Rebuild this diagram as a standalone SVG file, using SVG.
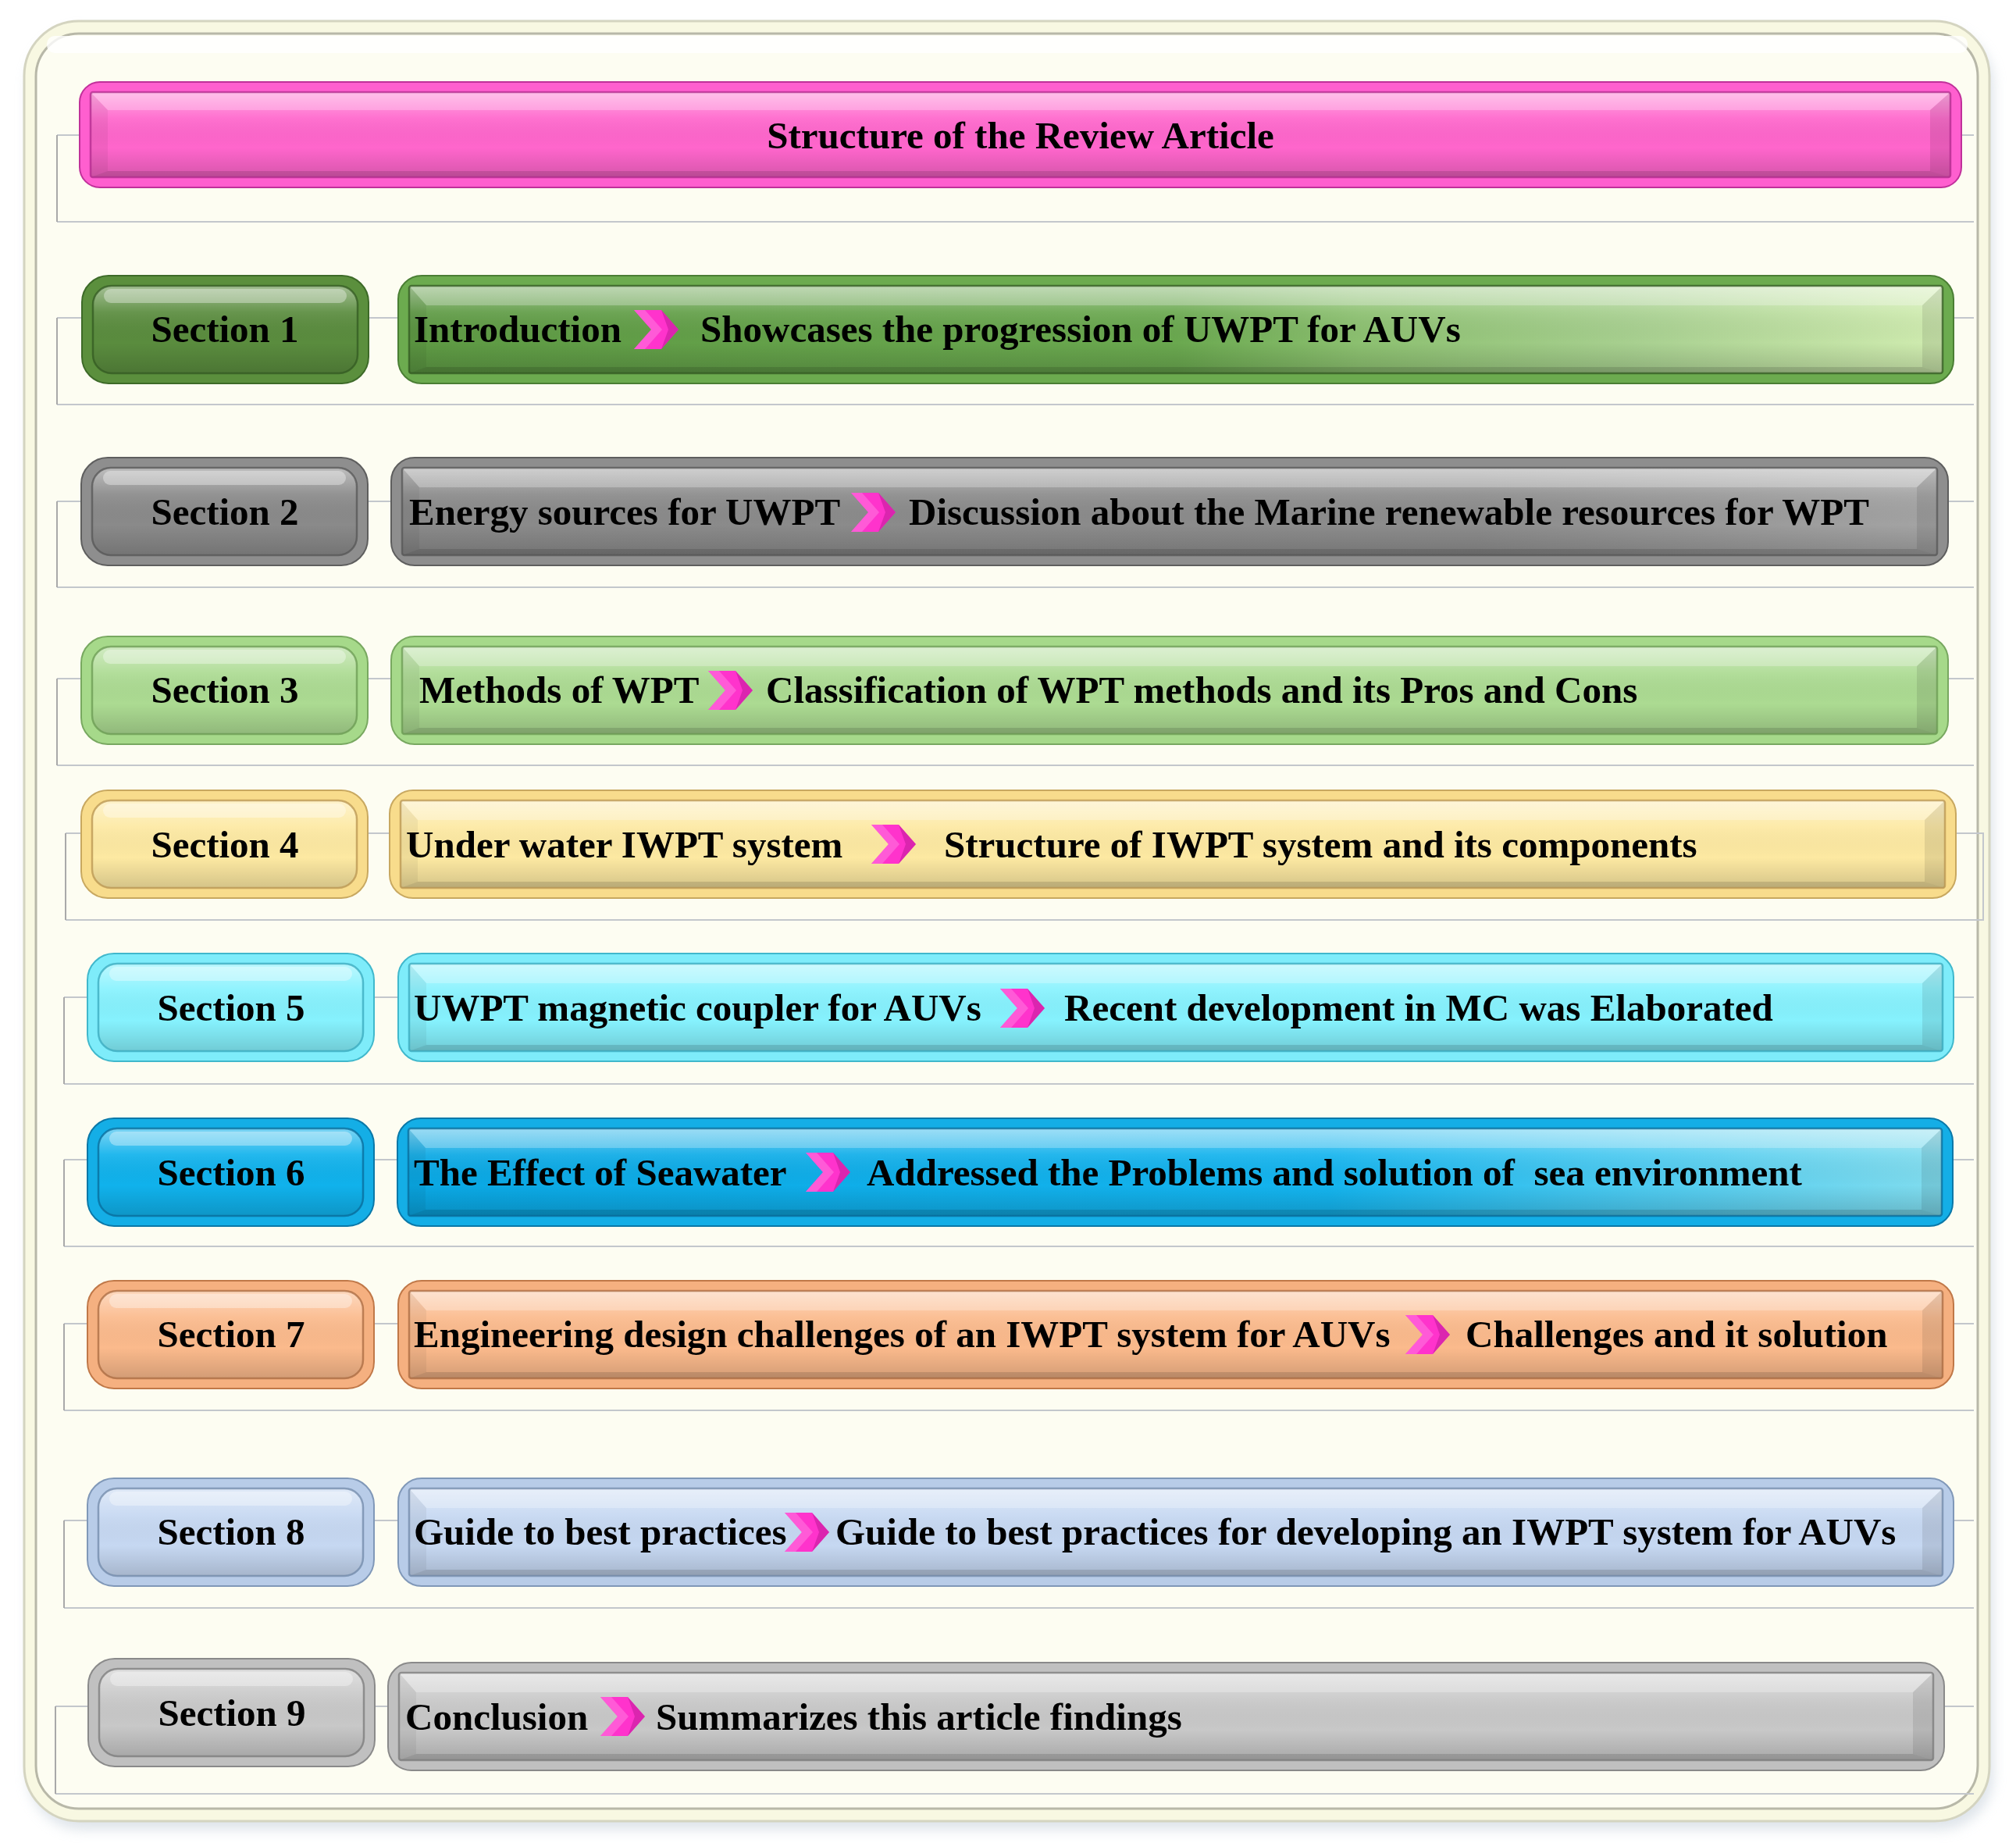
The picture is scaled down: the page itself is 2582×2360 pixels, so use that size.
<svg xmlns="http://www.w3.org/2000/svg" xmlns:xlink="http://www.w3.org/1999/xlink" width="2582" height="2360" viewBox="0 0 2582 2360">
<style>
.lbl{font-family:"Liberation Serif","Times New Roman",serif;font-weight:bold;font-size:49px;fill:#000}
.mid{text-anchor:middle}
.ln{fill:none;stroke:#c3c7cc;stroke-width:2}
.vl{fill:none;stroke:#a9a9a9;stroke-width:2}
.rim{stroke-width:2}
.edge{fill:none;stroke-width:2.5;stroke-opacity:.75}
.hl{fill:#fff;opacity:.35}
.bt{fill:#fff;opacity:.25}
.br{fill:#000;opacity:.09}
.bb{fill:#000;opacity:.12}
.bl{fill:#000;opacity:.05}
.kT{fill:#ff5fcf;stroke:#c0309a}.fT{fill:#ff66cc}.eT{stroke:#b02a8c}
.k1{fill:#5b8f3d;stroke:#3d6a28}.f1{fill:#5a8c3e}.e1{stroke:#335a22}
.k1c{fill:#6cab4f;stroke:#4a7e34}
.k2{fill:#8e8e8e;stroke:#5e5e5e}.f2{fill:#8a8a8a}.e2{stroke:#555}
.k3{fill:#a6d98a;stroke:#78a860}.f3{fill:#acdb92}.e3{stroke:#6a9a52}
.k4{fill:#f8dc8c;stroke:#c8a860}.f4{fill:#fde9a2}.e4{stroke:#b89450}
.k5{fill:#7eecfa;stroke:#40b8cc}.f5{fill:#86f2fe}.e5{stroke:#38a8bc}
.k6{fill:#14aee6;stroke:#0a78a8}.f6{fill:#10b2ec}.e6{stroke:#086a98}
.k7{fill:#f5b080;stroke:#c07848}.f7{fill:#fbba8c}.e7{stroke:#a86a40}
.k8{fill:#b8cce8;stroke:#8098b8}.f8{fill:#c6d8f2}.e8{stroke:#7088a8}
.k9{fill:#c0c0c0;stroke:#8a8a8a}.f9{fill:#c8c8c8}.e9{stroke:#7a7a7a}
</style>
<defs>
<linearGradient id="gloss" x1="0" y1="0" x2="0" y2="1">
<stop offset="0" stop-color="#fff" stop-opacity=".45"/>
<stop offset=".3" stop-color="#fff" stop-opacity=".08"/>
<stop offset=".65" stop-color="#000" stop-opacity="0"/>
<stop offset="1" stop-color="#000" stop-opacity=".16"/>
</linearGradient>
<linearGradient id="g1" x1="0" y1="0" x2="1" y2="0">
<stop offset="0" stop-color="#5e9a44"/>
<stop offset=".5" stop-color="#6aa84f"/>
<stop offset=".62" stop-color="#8cc070"/>
<stop offset=".8" stop-color="#a8d090"/>
<stop offset="1" stop-color="#d0ecb0"/>
</linearGradient>
<linearGradient id="g6" x1="0" y1="0" x2="1" y2="0">
<stop offset="0" stop-color="#0aa8e4"/>
<stop offset=".6" stop-color="#14b4ee"/>
<stop offset=".8" stop-color="#4ccaf0"/>
<stop offset="1" stop-color="#80dcee"/>
</linearGradient>
<linearGradient id="g2" x1="0" y1="0" x2="1" y2="0">
<stop offset="0" stop-color="#8a8a8a"/>
<stop offset=".7" stop-color="#8c8c8c"/>
<stop offset="1" stop-color="#a4a4a4"/>
</linearGradient>
<filter id="sh" x="-5%" y="-5%" width="110%" height="110%">
<feGaussianBlur stdDeviation="8"/>
</filter>
<g id="chev">
<polygon points="0,0 35,0 57,25 35,50 0,50 22,25" fill="#ff33cc"/>
<polygon points="22,25 0,0 14,0 36,25 14,50 0,50" fill="#ff7ae0" opacity=".55"/>
<polygon points="35,0 57,25 35,50 44,25" fill="#b0158c" opacity=".45"/>
</g>
</defs>

<rect width="2582" height="2360" fill="#fff"/>

<g id="frame">
<rect x="36" y="38" width="2517" height="2305" rx="70" fill="#c8d2dc" opacity=".6" filter="url(#sh)"/>
<rect x="31" y="27" width="2517" height="2305" rx="70" fill="#f8f8e2" stroke="#d4d4c0" stroke-width="3"/>
<rect x="46" y="43" width="2487" height="2273" rx="55" fill="#fdfdf2" stroke="#b8b8a8" stroke-width="3"/>
<rect x="60" y="46" width="2460" height="22" rx="10" fill="#fff" opacity=".8"/>
</g>

<g id="connectors">
<path class="ln" d="M73,173 H2528 M73,284 H2528 M73,407 H2528 M73,518 H2528 M73,642 H2528 M73,752 H2528 M73,869 H2528 M73,980 H2528 M84,1067 H2540 V1178 H84 M82,1277 H2528 M82,1388 H2528 M82,1485 H2528 M82,1596 H2528 M82,1695 H2528 M82,1806 H2528 M82,1947 H2528 M82,2059 H2528 M71,2185 H2528 M71,2297 H2528"/>
<path class="vl" d="M73,173 V284 M73,407 V518 M73,642 V752 M73,869 V980 M84,1067 V1178 M82,1277 V1388 M82,1485 V1596 M82,1695 V1806 M82,1947 V2059 M71,2185 V2297"/>
</g>

<g id="title">
<g transform="translate(102,105)">
<rect class="rim kT" width="2410" height="135" rx="26"/>
<rect class="fT" x="14" y="13" width="2382" height="109" rx="3"/>
<rect fill="url(#gloss)" x="14" y="13" width="2382" height="109" rx="3"/>
<polygon class="bt" points="14,13 2396,13 2370,36 36,36"/>
<polygon class="br" points="2396,13 2396,122 2370,114 2370,36"/>
<polygon class="bb" points="14,122 2396,122 2370,114 36,114"/>
<polygon class="bl" points="14,13 36,36 36,114 14,122"/>
<rect class="edge eT" x="14" y="13" width="2382" height="109" rx="3"/>
</g>
<text class="lbl mid" x="1307" y="190">Structure of the Review Article</text>
</g>

<!-- Row 1 -->
<g id="s1">
<g transform="translate(105,353)">
<rect class="rim k1" width="367" height="138" rx="34"/>
<rect class="f1" x="14" y="13" width="339" height="112" rx="24"/>
<rect fill="url(#gloss)" x="14" y="13" width="339" height="112" rx="24"/>
<rect class="edge e1" x="14" y="13" width="339" height="112" rx="24"/>
<rect class="hl" x="28" y="17" width="311" height="18" rx="9"/>
</g>
<text class="lbl mid" x="288" y="438">Section 1</text>
</g>
<g id="c1">
<g transform="translate(510,353)">
<rect class="rim k1c" width="1992" height="138" rx="30"/>
<rect fill="url(#g1)" x="14" y="13" width="1964" height="112" rx="3"/>
<rect fill="url(#gloss)" x="14" y="13" width="1964" height="112" rx="3"/>
<polygon class="bt" points="14,13 1978,13 1952,38 36,38"/>
<polygon class="br" points="1978,13 1978,125 1952,117 1952,38"/>
<polygon class="bb" points="14,125 1978,125 1952,117 36,117"/>
<polygon class="bl" points="14,13 36,38 36,117 14,125"/>
<rect class="edge e1" x="14" y="13" width="1964" height="112" rx="3"/>
</g>
<text class="lbl" x="530" y="438">Introduction</text>
<use xlink:href="#chev" x="812" y="397"/>
<text class="lbl" x="897" y="438">Showcases the progression of UWPT for AUVs</text>
</g>

<!-- Row 2 -->
<g id="s2">
<g transform="translate(104,586)">
<rect class="rim k2" width="367" height="138" rx="34"/>
<rect class="f2" x="14" y="13" width="339" height="112" rx="24"/>
<rect fill="url(#gloss)" x="14" y="13" width="339" height="112" rx="24"/>
<rect class="edge e2" x="14" y="13" width="339" height="112" rx="24"/>
<rect class="hl" x="28" y="17" width="311" height="18" rx="9"/>
</g>
<text class="lbl mid" x="288" y="672">Section 2</text>
</g>
<g id="c2">
<g transform="translate(501,586)">
<rect class="rim k2" width="1994" height="138" rx="30"/>
<rect fill="url(#g2)" x="14" y="13" width="1966" height="112" rx="3"/>
<rect fill="url(#gloss)" x="14" y="13" width="1966" height="112" rx="3"/>
<polygon class="bt" points="14,13 1980,13 1954,38 36,38"/>
<polygon class="br" points="1980,13 1980,125 1954,117 1954,38"/>
<polygon class="bb" points="14,125 1980,125 1954,117 36,117"/>
<polygon class="bl" points="14,13 36,38 36,117 14,125"/>
<rect class="edge e2" x="14" y="13" width="1966" height="112" rx="3"/>
</g>
<text class="lbl" x="524" y="672">Energy sources for UWPT</text>
<use xlink:href="#chev" x="1090" y="631"/>
<text class="lbl" x="1164" y="672">Discussion about the Marine renewable resources for WPT</text>
</g>

<!-- Row 3 -->
<g id="s3">
<g transform="translate(104,815)">
<rect class="rim k3" width="367" height="138" rx="34"/>
<rect class="f3" x="14" y="13" width="339" height="112" rx="24"/>
<rect fill="url(#gloss)" x="14" y="13" width="339" height="112" rx="24"/>
<rect class="edge e3" x="14" y="13" width="339" height="112" rx="24"/>
<rect class="hl" x="28" y="17" width="311" height="18" rx="9"/>
</g>
<text class="lbl mid" x="288" y="900">Section 3</text>
</g>
<g id="c3">
<g transform="translate(501,815)">
<rect class="rim k3" width="1994" height="138" rx="30"/>
<rect class="f3" x="14" y="13" width="1966" height="112" rx="3"/>
<rect fill="url(#gloss)" x="14" y="13" width="1966" height="112" rx="3"/>
<polygon class="bt" points="14,13 1980,13 1954,38 36,38"/>
<polygon class="br" points="1980,13 1980,125 1954,117 1954,38"/>
<polygon class="bb" points="14,125 1980,125 1954,117 36,117"/>
<polygon class="bl" points="14,13 36,38 36,117 14,125"/>
<rect class="edge e3" x="14" y="13" width="1966" height="112" rx="3"/>
</g>
<text class="lbl" x="537" y="900">Methods of WPT</text>
<use xlink:href="#chev" x="907" y="859"/>
<text class="lbl" x="981" y="900">Classification of WPT methods and its Pros and Cons</text>
</g>

<!-- Row 4 -->
<g id="s4">
<g transform="translate(104,1012)">
<rect class="rim k4" width="367" height="138" rx="34"/>
<rect class="f4" x="14" y="13" width="339" height="112" rx="24"/>
<rect fill="url(#gloss)" x="14" y="13" width="339" height="112" rx="24"/>
<rect class="edge e4" x="14" y="13" width="339" height="112" rx="24"/>
<rect class="hl" x="28" y="17" width="311" height="18" rx="9"/>
</g>
<text class="lbl mid" x="288" y="1098">Section 4</text>
</g>
<g id="c4">
<g transform="translate(499,1012)">
<rect class="rim k4" width="2006" height="138" rx="30"/>
<rect class="f4" x="14" y="13" width="1978" height="112" rx="3"/>
<rect fill="url(#gloss)" x="14" y="13" width="1978" height="112" rx="3"/>
<polygon class="bt" points="14,13 1992,13 1966,38 36,38"/>
<polygon class="br" points="1992,13 1992,125 1966,117 1966,38"/>
<polygon class="bb" points="14,125 1992,125 1966,117 36,117"/>
<polygon class="bl" points="14,13 36,38 36,117 14,125"/>
<rect class="edge e4" x="14" y="13" width="1978" height="112" rx="3"/>
</g>
<text class="lbl" x="520" y="1098">Under water IWPT system</text>
<use xlink:href="#chev" x="1116" y="1056"/>
<text class="lbl" x="1209" y="1098">Structure of IWPT system and its components</text>
</g>

<!-- Row 5 -->
<g id="s5">
<g transform="translate(112,1221)">
<rect class="rim k5" width="367" height="138" rx="34"/>
<rect class="f5" x="14" y="13" width="339" height="112" rx="24"/>
<rect fill="url(#gloss)" x="14" y="13" width="339" height="112" rx="24"/>
<rect class="edge e5" x="14" y="13" width="339" height="112" rx="24"/>
<rect class="hl" x="28" y="17" width="311" height="18" rx="9"/>
</g>
<text class="lbl mid" x="296" y="1307">Section 5</text>
</g>
<g id="c5">
<g transform="translate(510,1221)">
<rect class="rim k5" width="1992" height="138" rx="30"/>
<rect class="f5" x="14" y="13" width="1964" height="112" rx="3"/>
<rect fill="url(#gloss)" x="14" y="13" width="1964" height="112" rx="3"/>
<polygon class="bt" points="14,13 1978,13 1952,38 36,38"/>
<polygon class="br" points="1978,13 1978,125 1952,117 1952,38"/>
<polygon class="bb" points="14,125 1978,125 1952,117 36,117"/>
<polygon class="bl" points="14,13 36,38 36,117 14,125"/>
<rect class="edge e5" x="14" y="13" width="1964" height="112" rx="3"/>
</g>
<text class="lbl" x="530" y="1307">UWPT magnetic coupler for AUVs</text>
<use xlink:href="#chev" x="1281" y="1266"/>
<text class="lbl" x="1363" y="1307">Recent development in MC was Elaborated</text>
</g>

<!-- Row 6 -->
<g id="s6">
<g transform="translate(112,1432)">
<rect class="rim k6" width="367" height="138" rx="34"/>
<rect class="f6" x="14" y="13" width="339" height="112" rx="24"/>
<rect fill="url(#gloss)" x="14" y="13" width="339" height="112" rx="24"/>
<rect class="edge e6" x="14" y="13" width="339" height="112" rx="24"/>
<rect class="hl" x="28" y="17" width="311" height="18" rx="9"/>
</g>
<text class="lbl mid" x="296" y="1518">Section 6</text>
</g>
<g id="c6">
<g transform="translate(509,1432)">
<rect class="rim k6" width="1992" height="138" rx="30"/>
<rect fill="url(#g6)" x="14" y="13" width="1964" height="112" rx="3"/>
<rect fill="url(#gloss)" x="14" y="13" width="1964" height="112" rx="3"/>
<polygon class="bt" points="14,13 1978,13 1952,38 36,38"/>
<polygon class="br" points="1978,13 1978,125 1952,117 1952,38"/>
<polygon class="bb" points="14,125 1978,125 1952,117 36,117"/>
<polygon class="bl" points="14,13 36,38 36,117 14,125"/>
<rect class="edge e6" x="14" y="13" width="1964" height="112" rx="3"/>
</g>
<text class="lbl" x="530" y="1518">The Effect of Seawater</text>
<use xlink:href="#chev" x="1032" y="1476"/>
<text class="lbl" x="1110" y="1518" xml:space="preserve">Addressed the Problems and solution of  sea environment</text>
</g>

<!-- Row 7 -->
<g id="s7">
<g transform="translate(112,1640)">
<rect class="rim k7" width="367" height="138" rx="34"/>
<rect class="f7" x="14" y="13" width="339" height="112" rx="24"/>
<rect fill="url(#gloss)" x="14" y="13" width="339" height="112" rx="24"/>
<rect class="edge e7" x="14" y="13" width="339" height="112" rx="24"/>
<rect class="hl" x="28" y="17" width="311" height="18" rx="9"/>
</g>
<text class="lbl mid" x="296" y="1725">Section 7</text>
</g>
<g id="c7">
<g transform="translate(510,1640)">
<rect class="rim k7" width="1992" height="138" rx="30"/>
<rect class="f7" x="14" y="13" width="1964" height="112" rx="3"/>
<rect fill="url(#gloss)" x="14" y="13" width="1964" height="112" rx="3"/>
<polygon class="bt" points="14,13 1978,13 1952,38 36,38"/>
<polygon class="br" points="1978,13 1978,125 1952,117 1952,38"/>
<polygon class="bb" points="14,125 1978,125 1952,117 36,117"/>
<polygon class="bl" points="14,13 36,38 36,117 14,125"/>
<rect class="edge e7" x="14" y="13" width="1964" height="112" rx="3"/>
</g>
<text class="lbl" x="530" y="1725">Engineering design challenges of an IWPT system for AUVs</text>
<use xlink:href="#chev" x="1800" y="1684"/>
<text class="lbl" x="1877" y="1725">Challenges and it solution</text>
</g>

<!-- Row 8 -->
<g id="s8">
<g transform="translate(112,1893)">
<rect class="rim k8" width="367" height="138" rx="34"/>
<rect class="f8" x="14" y="13" width="339" height="112" rx="24"/>
<rect fill="url(#gloss)" x="14" y="13" width="339" height="112" rx="24"/>
<rect class="edge e8" x="14" y="13" width="339" height="112" rx="24"/>
<rect class="hl" x="28" y="17" width="311" height="18" rx="9"/>
</g>
<text class="lbl mid" x="296" y="1978">Section 8</text>
</g>
<g id="c8">
<g transform="translate(510,1893)">
<rect class="rim k8" width="1992" height="138" rx="30"/>
<rect class="f8" x="14" y="13" width="1964" height="112" rx="3"/>
<rect fill="url(#gloss)" x="14" y="13" width="1964" height="112" rx="3"/>
<polygon class="bt" points="14,13 1978,13 1952,38 36,38"/>
<polygon class="br" points="1978,13 1978,125 1952,117 1952,38"/>
<polygon class="bb" points="14,125 1978,125 1952,117 36,117"/>
<polygon class="bl" points="14,13 36,38 36,117 14,125"/>
<rect class="edge e8" x="14" y="13" width="1964" height="112" rx="3"/>
</g>
<text class="lbl" x="530" y="1978">Guide to best practices</text>
<use xlink:href="#chev" x="1005" y="1937"/>
<text class="lbl" x="1070" y="1978">Guide to best practices for developing an IWPT system for AUVs</text>
</g>

<!-- Row 9 -->
<g id="s9">
<g transform="translate(113,2124)">
<rect class="rim k9" width="367" height="138" rx="34"/>
<rect class="f9" x="14" y="13" width="339" height="112" rx="24"/>
<rect fill="url(#gloss)" x="14" y="13" width="339" height="112" rx="24"/>
<rect class="edge e9" x="14" y="13" width="339" height="112" rx="24"/>
<rect class="hl" x="28" y="17" width="311" height="18" rx="9"/>
</g>
<text class="lbl mid" x="297" y="2210">Section 9</text>
</g>
<g id="c9">
<g transform="translate(497,2129)">
<rect class="rim k9" width="1993" height="138" rx="30"/>
<rect class="f9" x="14" y="13" width="1965" height="112" rx="3"/>
<rect fill="url(#gloss)" x="14" y="13" width="1965" height="112" rx="3"/>
<polygon class="bt" points="14,13 1979,13 1953,38 36,38"/>
<polygon class="br" points="1979,13 1979,125 1953,117 1953,38"/>
<polygon class="bb" points="14,125 1979,125 1953,117 36,117"/>
<polygon class="bl" points="14,13 36,38 36,117 14,125"/>
<rect class="edge e9" x="14" y="13" width="1965" height="112" rx="3"/>
</g>
<text class="lbl" x="519" y="2215">Conclusion</text>
<use xlink:href="#chev" x="769" y="2173"/>
<text class="lbl" x="840" y="2215">Summarizes this article findings</text>
</g>
</svg>
